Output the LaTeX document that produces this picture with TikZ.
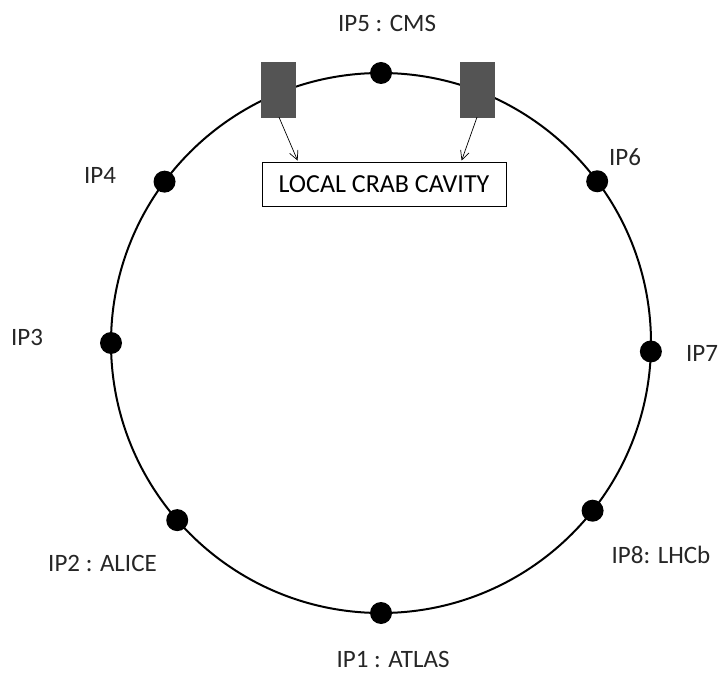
\documentclass[tikz,border=0pt]{standalone}
\usepackage{fontspec}
\setmainfont{Carlito}
\usetikzlibrary{calc,arrows.meta}
\begin{document}
\begin{tikzpicture}[x=1pt,y=1pt,
  ring/.style={line width=2pt},
  ipdot/.style={circle,fill=black,inner sep=0pt,minimum size=22pt},
  iplabel/.style={font=\fontsize{25}{30}\selectfont,text=black!85,inner sep=0pt},
  cavity/.style={fill=black!67,draw=black!67,minimum width=34pt,minimum height=55pt,inner sep=0pt},
  callout/.style={draw=black,line width=0.8pt,minimum width=244pt,minimum height=44pt,inner sep=0pt,font=\fontsize{26}{30}\selectfont},
  pointer/.style={line width=0.7pt,-{Straight Barb[length=9pt,width=9pt]}}]
\useasboundingbox (0,0) rectangle (723,673);
\coordinate (c) at (381,330);
\draw[ring] (c) circle[radius=270pt];
\node[ipdot] (ip5) at ($(c)+(90:270pt)$) {};
\node[ipdot] (ip6) at ($(c)+(36.8:270pt)$) {};
\node[ipdot] (ip7) at ($(c)+(-1.8:270pt)$) {};
\node[ipdot] (ip8) at ($(c)+(-38.4:270pt)$) {};
\node[ipdot] (ip1) at ($(c)+(-90:270pt)$) {};
\node[ipdot] (ip2) at ($(c)+(-139:270pt)$) {};
\node[ipdot] (ip3) at ($(c)+(180:270pt)$) {};
\node[ipdot] (ip4) at ($(c)+(143.3:270pt)$) {};
\node[iplabel] (l5) at (387,650) {IP5 : CMS};
\node[iplabel] (l6) at (625,516) {IP6};
\node[iplabel] (l7) at (702,320) {IP7};
\node[iplabel] (l8) at (661,118) {IP8: LHCb};
\node[iplabel] (l1) at (393,14) {IP1 : ATLAS};
\node[iplabel,anchor=east] (l2) at (157,110) {IP2 : ALICE};
\node[iplabel] (l3) at (27,336) {IP3};
\node[iplabel] (l4) at (100,498) {IP4};
\node[cavity] (cl) at (278,583.5) {};
\node[cavity] (cr) at (477,583.5) {};
\node[callout] (lbl) at (384,489) {LOCAL CRAB CAVITY};
\draw[pointer] ($(cl.south)+(1,0)$) -- ($(lbl.north west)+(36,1)$);
\draw[pointer] ($(cr.south)+(0,0)$) -- ($(lbl.north west)+(200,1)$);
\end{tikzpicture}
\end{document}
